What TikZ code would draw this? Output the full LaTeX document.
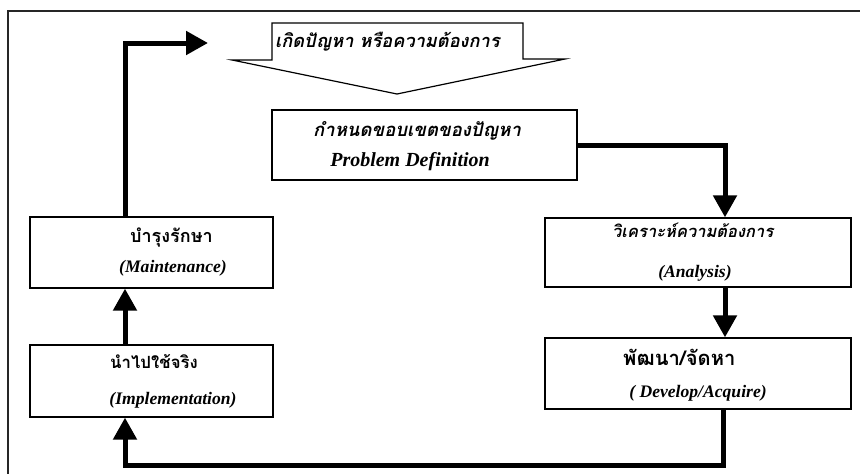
\documentclass[tikz,border=0pt]{standalone}
\usepackage{fontspec}
\setmainfont{Liberation Serif}
\newfontfamily\thai[Script=Thai]{Loma}
\usetikzlibrary{arrows.meta}

\begin{document}
\begin{tikzpicture}[x=1pt,y=-1pt,
  stagebox/.style={draw, line width=1.3pt, fill=white, inner sep=0pt},
  thtext/.style={inner sep=0pt, anchor=west, font=\thai\bfseries\fontsize{#1}{#1}\selectfont},
  thslant/.style={inner sep=0pt, anchor=west, font=\thai\bfseries\itshape\fontsize{#1}{#1}\selectfont},
  entext/.style={inner sep=0pt, font=\bfseries\itshape\fontsize{#1}{#1}\selectfont},
  entext/.default=17.6,
  flow/.style={line width=5pt, -{Triangle[width=23pt,length=22pt]}},
  frame/.style={line width=1.6pt, black!85},
  callout/.style={line width=1.2pt, fill=white, line join=miter}
]
\clip (0,0) rectangle (860,474);
\fill[white] (0,0) rectangle (860,474);

% outer frame (runs past the page on the right and bottom)
\draw[frame] (8,11) rectangle (900,500);

% callout arrow at the top
\draw[callout] (272,23) -- (523,23) -- (523,59) -- (565,59) -- (397,94)
  -- (232,60) -- (272,60) -- cycle;
\node[thslant=18.2] (start) at (275,42) {เกิดปัญหา หรือความต้องการ};

% stage boxes
\node[stagebox, minimum width=305pt, minimum height=70pt] (pd) at (424.5,145) {};
\node[stagebox, minimum width=306pt, minimum height=69pt] (an) at (698,252.5) {};
\node[stagebox, minimum width=306pt, minimum height=71pt] (dv) at (698,373.5) {};
\node[stagebox, minimum width=243pt, minimum height=71pt] (mt) at (151.5,252.5) {};
\node[stagebox, minimum width=243pt, minimum height=72pt] (im) at (151.5,381) {};

% box labels
\node[thslant=18.5] (pdth) at (313,131) {กำหนดขอบเขตของปัญหา};
\node[entext=20] (pden) at (410,162) {Problem Definition};
\node[thslant=16.5] (anth) at (612,230) {วิเคราะห์ความต้องการ};
\node[entext] (anen) at (695,273) {(Analysis)};
\node[thtext=20.2] (dvth) at (623,357) {พัฒนา/จัดหา};
\node[entext] (dven) at (698,393) {( Develop/Acquire)};
\node[thtext=18] (mtth) at (130,238) {บำรุงรักษา};
\node[entext] (mten) at (173,268) {(Maintenance)};
\node[thtext=16.8] (imth) at (110,362) {นำไปใช้จริง};
\node[entext] (imen) at (173,400) {(Implementation)};

% connectors
\coordinate (loopend) at (208,43);
\draw[flow] (pd.east) -| ([xshift=27pt]an.north);
\draw[flow] ([xshift=27pt]an.south) -- ([xshift=27pt]dv.north);
\draw[flow] ([xshift=25pt]dv.south) -- ++(0,56) -| ([xshift=-26.5pt]im.south);
\draw[flow] ([xshift=-26.5pt]im.north) -- ([xshift=-26.5pt]mt.south);
\draw[flow] ([xshift=-26.5pt]mt.north) |- (loopend);
\end{tikzpicture}
\end{document}
